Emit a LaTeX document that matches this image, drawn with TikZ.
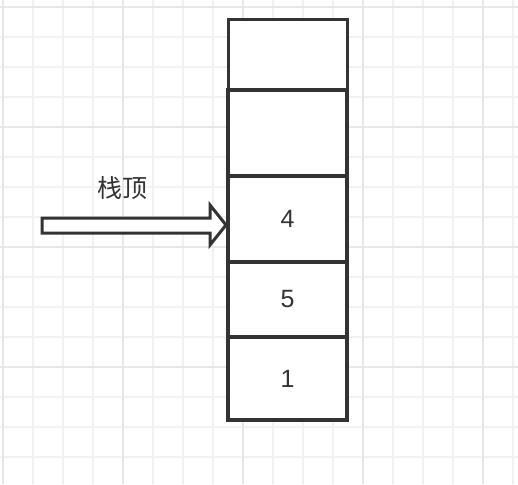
\documentclass[tikz,border=0pt]{standalone}
\usepackage{fontspec}
\setmainfont{Liberation Sans}
\newfontfamily\cjk{Noto Sans CJK SC}
\definecolor{inkgray}{HTML}{333333}
\definecolor{gridminor}{HTML}{F1F1F1}
\definecolor{gridmajor}{HTML}{E7E7E7}
\begin{document}
\begin{tikzpicture}[x=1pt,y=-1pt,
    cell/.style={draw=inkgray,line width=4pt,fill=white,minimum width=119pt,
      inner sep=0pt,font=\fontsize{25}{30}\selectfont,text=inkgray},
    hollowarrow/.style={draw=inkgray,line width=3pt,fill=white,line join=miter},
  ]
      \useasboundingbox[fill=white] (0,0) rectangle (518,484);
      \begin{scope}[xshift=3pt,yshift=-7pt]
        \draw[gridminor,line width=1.2pt,step=30pt] (-3,-7) grid (515,477);
        \draw[gridmajor,line width=1.2pt,step=120pt] (-3,-7) grid (515,477);
      \end{scope}
      \draw
        (287.5,55) node[cell,line width=3pt,minimum height=70pt] (c5){}
        (287.5,133) node[cell,minimum height=86pt] (c4){}
        (287.5,219) node[cell,minimum height=86pt] (c3){4}
        (287.5,299.5) node[cell,minimum height=75pt] (c2){5}
        (287.5,378.5) node[cell,minimum height=83pt] (c1){1};
      \coordinate (tip) at ([yshift=-6pt]c3.west);
      \draw[hollowarrow] (42,218) -- (210,218) -- (210,205) -- (tip)
        -- (210,245) -- (210,233) -- (42,233) -- cycle;
      \node[text=inkgray,font=\fontsize{25}{30}\selectfont\cjk] (label) at (122,188) {栈顶};
    \end{tikzpicture}
\end{document}
